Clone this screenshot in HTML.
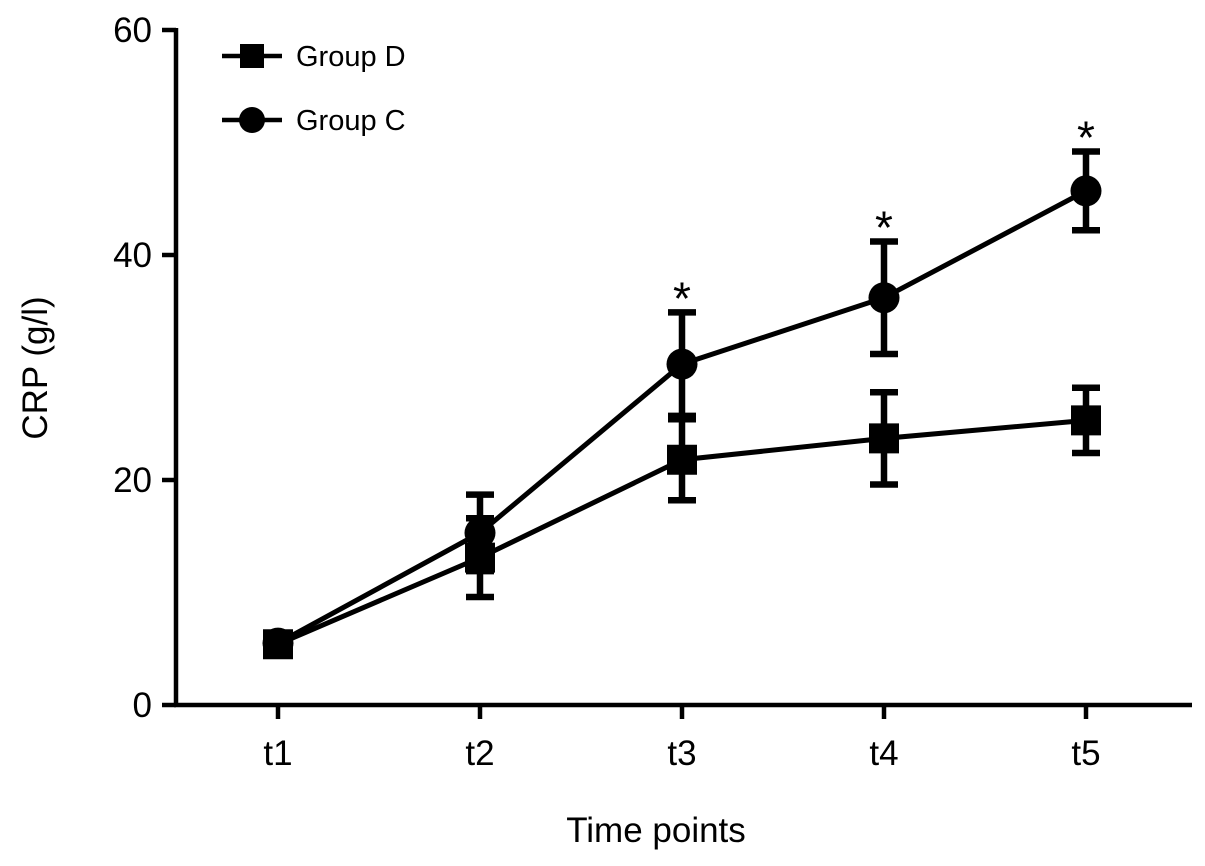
<!DOCTYPE html>
<html><head><meta charset="utf-8"><style>
body{margin:0;background:#fff;}
svg{display:block;font-family:"Liberation Sans",Arial,sans-serif;}
</style></head><body>
<svg id="chart" width="1205" height="866"></svg>
<script>
const categories=["t1","t2","t3","t4","t5"];
const groupD=[5.4,13.1,21.8,23.7,25.3];
const groupDErr=[0.5,3.5,3.6,4.1,2.9];
const groupC=[5.5,15.3,30.3,36.2,45.7];
const groupCErr=[0.5,3.4,4.6,5.0,3.5];
const yTicks=[0,20,40,60];
const significant=[false,false,true,true,true];

const NS="http://www.w3.org/2000/svg";
const svg=document.getElementById("chart");
const x0=176,xEnd=1192,y0=705,yTop=30,yMax=60;
const xs=i=>278+i*202;
const ys=v=>y0-(v/yMax)*(y0-yTop);
function mk(tag,attrs,parent){const e=document.createElementNS(NS,tag);for(const k in attrs)e.setAttribute(k,attrs[k]);(parent||svg).appendChild(e);return e;}

const axes=mk("g",{});


const ya=mk("line",{x1:x0,y1:yTop-2,x2:x0,y2:y0+2,stroke:"#000","stroke-width":4.5},axes);


const xa=mk("line",{x1:x0-2,y1:y0,x2:xEnd,y2:y0,stroke:"#000","stroke-width":4.5},axes);


yTicks.forEach(t=>{
  const y=ys(t);
  const l=mk("line",{x1:x0-14,y1:y,x2:x0,y2:y,stroke:"#000","stroke-width":4.5},axes);
  
  
  const tx=mk("text",{x:x0-24,y:y+12,"text-anchor":"end","font-size":35},axes);
  tx.textContent=t;
  
  
});
categories.forEach((c,i)=>{
  const x=xs(i);
  const l=mk("line",{x1:x,y1:y0,x2:x,y2:y0+14,stroke:"#000","stroke-width":4.5},axes);
  
  
  const tx=mk("text",{x:x,y:y0+60,"text-anchor":"middle","font-size":35},axes);
  tx.textContent=c;
  
  
});
const yt=mk("text",{transform:"translate(47,368) rotate(-90)","text-anchor":"middle","font-size":35});
yt.textContent="CRP (g/l)";


const xt=mk("text",{x:656,y:842,"text-anchor":"middle","font-size":35});
xt.textContent="Time points";



function series(vals,errs,shape,name){
  const g=mk("g",{});
  
  
  const pl=mk("polyline",{points:vals.map((v,i)=>xs(i)+","+ys(v)).join(" "),fill:"none",stroke:"#000","stroke-width":5},g);
  
  
  vals.forEach((v,i)=>{
    const x=xs(i),yt=ys(v+errs[i]),yb=ys(v-errs[i]);
    const eb=mk("path",{d:`M${x},${yt}V${yb}M${x-14},${yt}H${x+14}M${x-14},${yb}H${x+14}`,stroke:"#000","stroke-width":6.5,fill:"none"},g);
    
    
    let m;
    if(shape==="square") m=mk("rect",{x:x-15,y:ys(v)-15,width:30,height:30,fill:"#000"},g);
    else m=mk("circle",{cx:x,cy:ys(v),r:15.5,fill:"#000"},g);
    
    
  });
}
series(groupC,groupCErr,"circle","group-c");
series(groupD,groupDErr,"square","group-d");

categories.forEach((c,i)=>{
  if(!significant[i])return;
  const top=Math.max(groupC[i]+groupCErr[i],groupD[i]+groupDErr[i]);
  const s=mk("text",{x:xs(i),y:ys(top)+2,"text-anchor":"middle","font-size":46});
  s.textContent="*";
  
  
});

const lg=mk("g",{});


[["Group D","square",56],["Group C","circle",120]].forEach(([lab,shp,y])=>{
  const e=mk("g",{},lg);
  
  
  mk("line",{x1:222,y1:y,x2:282,y2:y,stroke:"#000","stroke-width":4.5},e);
  if(shp==="square")mk("rect",{x:240,y:y-12,width:24,height:24,fill:"#000"},e);
  else mk("circle",{cx:252,cy:y,r:13,fill:"#000"},e);
  const t=mk("text",{x:296,y:y+10,"font-size":29},e);
  t.textContent=lab;
});
</script>
</body></html>
